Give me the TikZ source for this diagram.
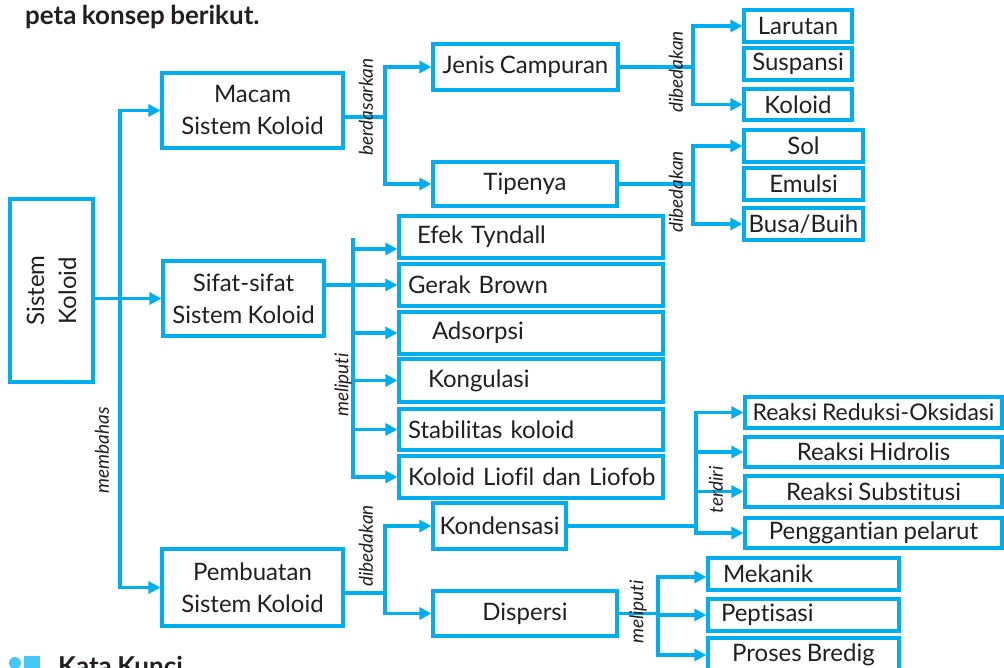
\documentclass[tikz,border=0pt]{standalone}
\usepackage{fontspec}
\setmainfont{Lato}[Ligatures={NoCommon}, WordSpace=0.85]
\usetikzlibrary{arrows.meta,calc}
\definecolor{cy}{HTML}{00AEEF}
\definecolor{tx}{HTML}{231F20}
\definecolor{cyl}{HTML}{45C8F5}
\newcommand\bxn[7]{\node[bx,#6,minimum width={(#4-#2)*1pt},minimum height={(#5-#3)*1pt}] (#1) at ({(#2+#4)/2},{(#3+#5)/2}) {#7};}
\begin{document}
\begin{tikzpicture}[x=1pt,y=-1pt,
  bx/.style={draw=cy, line width=3.2pt, inner sep=0pt, text=tx, font=\fontsize{24}{32}\selectfont, align=center},
  sm/.style={font=\fontsize{23}{28}\selectfont},
  lft/.style={text width=264pt, align=left},
  lftb/.style={text width=191pt, align=left},
  con/.style={draw=cy, line width=3.2pt, line cap=rect},
  arr/.style={con, -{Triangle[length=12pt,width=12pt]}},
  barr/.style={con, {Triangle[length=12pt,width=12pt]}-{Triangle[length=12pt,width=12pt]}},
  lbl/.style={rotate=90, text=tx, inner sep=0pt, font=\fontsize{19}{22}\selectfont\itshape},
  ttl/.style={anchor=base west, inner sep=0pt, text=tx, font=\fontsize{26}{30}\selectfont\bfseries}]
\useasboundingbox (0,0) rectangle (1004,668);

\node[ttl] (title) at (25,25) {peta konsep berikut.};

% boxes
\node[bx, rotate=90, minimum width=183pt, minimum height=83pt] (root) at (51.5,290.5) {Sistem\\Koloid};
\bxn{macam}{162}{73}{343}{148}{}{Macam\\Sistem Koloid}
\bxn{sifat}{163}{261}{324}{336}{}{Sifat-sifat\\Sistem Koloid}
\bxn{pemb}{162}{549}{343}{626}{}{Pembuatan\\Sistem Koloid}
\bxn{jenis}{433}{44}{618}{90}{}{Jenis Campuran}
\bxn{tipe}{433}{162}{617}{206}{}{Tipenya}
\bxn{larutan}{744}{10}{852}{42}{}{Larutan}
\bxn{suspensi}{744}{48}{852}{80}{}{Suspansi}
\bxn{koloid}{744}{89}{852}{120}{}{Koloid}
\bxn{sol}{744}{130}{863}{162}{}{Sol}
\bxn{emulsi}{744}{168}{863}{200}{}{Emulsi}
\bxn{busa}{744}{208}{863}{240}{}{Busa/Buih}
\bxn{efek}{399}{216}{663}{258}{lft}{\hspace*{18pt}Efek Tyndall}
\bxn{gerak}{399}{264}{663}{306}{lft}{\hspace*{9pt}Gerak Brown}
\bxn{adsorp}{399}{312}{663}{354}{lft}{\hspace*{33pt}Adsorpsi}
\bxn{kongu}{399}{359}{663}{402}{lft}{\hspace*{29pt}Kongulasi}
\bxn{stab}{399}{409}{663}{450}{lft}{\hspace*{9pt}Stabilitas koloid}
\bxn{liofil}{399}{456}{663}{498}{lft}{\hspace*{9pt}Koloid Liofil dan Liofob}
\bxn{kond}{433}{503}{566}{549}{}{Kondensasi}
\bxn{disp}{433}{591}{617}{636}{}{Dispersi}
\bxn{redoks}{745}{397}{1002}{428}{sm}{Reaksi Reduksi-Oksidasi}
\bxn{hidro}{745}{437}{1002}{467}{}{Reaksi Hidrolis}
\bxn{subst}{745}{476}{1002}{507}{}{Reaksi Substitusi}
\bxn{ganti}{745}{518}{1002}{548}{}{Penggantian pelarut}
\bxn{mek}{708}{558}{899}{590}{lftb}{\hspace*{15pt}Mekanik}
\bxn{pept}{708}{599}{899}{631}{lftb}{\hspace*{13pt}Peptisasi}
\bxn{bredig}{708}{638}{899}{672}{}{Proses Bredig}

% junction coordinates
\coordinate (t) at (120,0);
\coordinate (jb) at (385,117);
\coordinate (x693) at (693,0);
\coordinate (x353) at (353,0);
\coordinate (x696) at (696,0);
\coordinate (jp) at (385,593);
\coordinate (x658) at (658,0);

% membahas
\draw[con] (t |- macam.west) -- (t |- pemb.west);
\draw[arr] (t |- macam.west) -- (macam.west);
\draw[arr] (root.south |- sifat.west) -- (sifat.west);
\draw[arr] (t |- pemb.west) -- (pemb.west);

% berdasarkan
\draw[con] (macam.east |- jb) -- (jb);
\draw[barr] (jenis.west) -| (jb) |- (tipe.west);

% dibedakan
\draw[con] (jenis.east) -- (jenis.east -| x693);
\draw[barr] (larutan.west) -| (jenis.east -| x693) |- (koloid.west);
\draw[con] (tipe.east) -- (tipe.east -| x693);
\draw[barr] (sol.west) -| (tipe.east -| x693) |- (busa.west);

% meliputi (sifat)
\draw[con] ($(x353 |- efek.west)+(0,3)$) -- (x353 |- liofil.west);
\draw[arr] ($(x353 |- efek.west)+(0,12)$) -- ($(efek.west)+(0,12)$);
\draw[arr] (sifat.east |- gerak.west) -- (gerak.west);
\foreach \n in {adsorp,kongu,stab,liofil} \draw[arr] (x353 |- \n.west) -- (\n.west);

% dibedakan (pembuatan)
\draw[con] (pemb.east |- jp) -- (jp);
\draw[barr] (kond.west) -| (jp) |- (disp.west);

% terdiri
\draw[con] (kond.east) -- (kond.east -| x696);
\draw[con] (x696 |- redoks.west) -- (x696 |- ganti.west);
\foreach \n in {redoks,hidro,subst,ganti} \draw[arr] (x696 |- \n.west) -- (\n.west);

% meliputi (dispersi)
\draw[con] (disp.east) -- (disp.east -| x658);
\draw[con] ($(x658 |- mek.west)+(0,3)$) -- (x658 |- bredig.west);
\draw[arr] ($(x658 |- mek.west)+(0,3)$) -- ($(mek.west)+(0,3)$);
\foreach \n in {pept,bredig} \draw[arr] (x658 |- \n.west) -- (\n.west);

% labels
\node[lbl] (lb1) at (366,107) {berdasarkan};
\node[lbl] (lb2) at (676,72) {dibedakan};
\node[lbl] (lb3) at (676,192) {dibedakan};
\node[lbl] (lb4) at (343,385) {meliputi};
\node[lbl] (lb5) at (102,450) {membahas};
\node[lbl] (lb6) at (366,546) {dibedakan};
\node[lbl] (lb7) at (716,490) {terdiri};
\node[lbl] (lb8) at (638,612) {meliputi};

% kata kunci
\fill[cyl] (15,663) circle (6);
\fill[cyl] (24,656) rectangle (40,672);
\node[ttl] (kk) at (58,675) {Kata Kunci};
\end{tikzpicture}
\end{document}
